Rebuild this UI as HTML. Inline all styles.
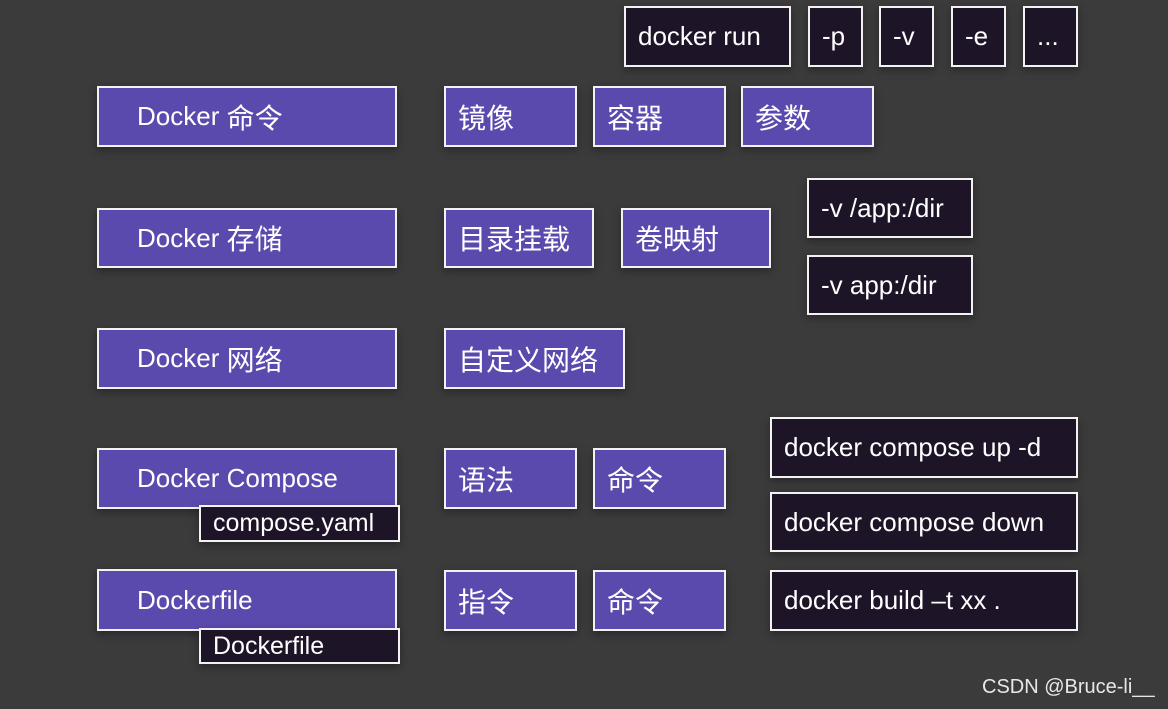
<!DOCTYPE html>
<html><head><meta charset="utf-8"><style>
html,body{margin:0;padding:0}
body{width:1168px;height:709px;background:#3b3b3b;position:relative;overflow:hidden;font-family:"Liberation Sans","Noto Sans CJK SC",sans-serif;color:#fff}
.b{position:absolute;box-sizing:border-box;border:2px solid #f2f2f2;display:flex;align-items:center;font-size:26px;padding-left:12px;white-space:nowrap;box-shadow:0 3px 8px rgba(0,0,0,.35)}
.c{font-size:28px;font-weight:normal}
.p{background:#5b4aae}
.d{background:#1d1428}
.l{padding-left:38px}
.w{position:absolute;left:982px;top:676px;font-size:20px;color:#e8e8e8}
</style></head><body>
<div class="b d" style="left:624px;top:6px;width:167px;height:61px">docker run</div>
<div class="b d" style="left:808px;top:6px;width:55px;height:61px">-p</div>
<div class="b d" style="left:879px;top:6px;width:55px;height:61px">-v</div>
<div class="b d" style="left:951px;top:6px;width:55px;height:61px">-e</div>
<div class="b d" style="left:1023px;top:6px;width:55px;height:61px">...</div>

<div class="b p l" style="left:97px;top:86px;width:300px;height:61px">Docker&nbsp;<span class="c">命令</span></div>
<div class="b p" style="left:444px;top:86px;width:133px;height:61px"><span class="c">镜像</span></div>
<div class="b p" style="left:593px;top:86px;width:133px;height:61px"><span class="c">容器</span></div>
<div class="b p" style="left:741px;top:86px;width:133px;height:61px"><span class="c">参数</span></div>

<div class="b p l" style="left:97px;top:208px;width:300px;height:60px">Docker&nbsp;<span class="c">存储</span></div>
<div class="b p" style="left:444px;top:208px;width:150px;height:60px"><span class="c">目录挂载</span></div>
<div class="b p" style="left:621px;top:208px;width:150px;height:60px"><span class="c">卷映射</span></div>
<div class="b d" style="left:807px;top:178px;width:166px;height:60px">-v /app:/dir</div>
<div class="b d" style="left:807px;top:255px;width:166px;height:60px">-v app:/dir</div>

<div class="b p l" style="left:97px;top:328px;width:300px;height:61px">Docker&nbsp;<span class="c">网络</span></div>
<div class="b p" style="left:444px;top:328px;width:181px;height:61px"><span class="c">自定义网络</span></div>

<div class="b p l" style="left:97px;top:448px;width:300px;height:61px">Docker Compose</div>
<div class="b d" style="left:199px;top:505px;width:201px;height:37px;font-size:25px">compose.yaml</div>
<div class="b p" style="left:444px;top:448px;width:133px;height:61px"><span class="c">语法</span></div>
<div class="b p" style="left:593px;top:448px;width:133px;height:61px"><span class="c">命令</span></div>
<div class="b d" style="left:770px;top:417px;width:308px;height:61px">docker compose up -d</div>
<div class="b d" style="left:770px;top:492px;width:308px;height:60px">docker compose down</div>

<div class="b p l" style="left:97px;top:569px;width:300px;height:62px">Dockerfile</div>
<div class="b d" style="left:199px;top:628px;width:201px;height:36px;font-size:25px">Dockerfile</div>
<div class="b p" style="left:444px;top:570px;width:133px;height:61px"><span class="c">指令</span></div>
<div class="b p" style="left:593px;top:570px;width:133px;height:61px"><span class="c">命令</span></div>
<div class="b d" style="left:770px;top:570px;width:308px;height:61px">docker build –t xx .</div>

<div class="w">CSDN @Bruce-li__</div>
</body></html>
